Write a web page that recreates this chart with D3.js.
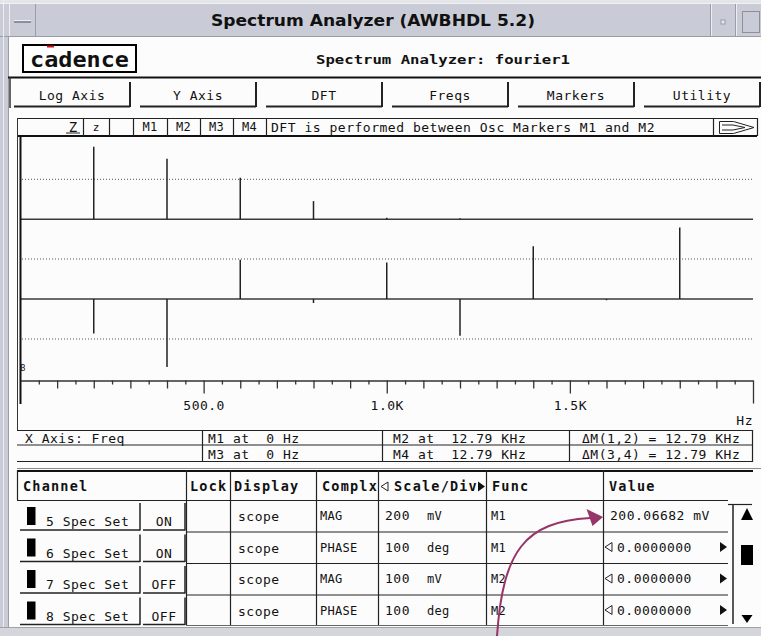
<!DOCTYPE html>
<html><head><meta charset="utf-8">
<script src="https://cdn.jsdelivr.net/npm/d3@7"></script>
<style>
body{margin:0;background:#fcfcfc;overflow:hidden;}
svg text{font-family:"DejaVu Sans Mono",monospace;fill:#111;white-space:pre;}
</style></head>
<body><svg id="c" width="761" height="636"></svg>
<script>
// ---- data ----
const freqs = [200, 400, 600, 800, 1000, 1200, 1400, 1600, 1800];      // Hz
const magnitude = [363, 303, 208, 91, 8, 5, 0, 0, 0];                 // mV (channel 5, MAG)
const phase = [-86, -170, 98, -10, 91, -92, 132, -3, 179];             // deg (channel 6, PHASE)
const xTickValues = d3.range(0, 2001, 50);
const xTickLabels = {500: "500.0", 1000: "1.0K", 1500: "1.5K"};
const menuButtons = ["Log Axis", "Y Axis", "DFT", "Freqs", "Markers", "Utility"];
const markerCells = ["M1", "M2", "M3", "M4"];
const markerNote = "DFT is performed between Osc Markers M1 and M2";
const infoRow1 = ["X Axis: Freq", "M1 at  0 Hz", "M2 at  12.79 KHz", "\u0394M(1,2) = 12.79 KHz"];
const infoRow2 = ["", "M3 at  0 Hz", "M4 at  12.79 KHz", "\u0394M(3,4) = 12.79 KHz"];
const headers = ["Channel", "Lock", "Display", "Complx", "Scale/Div", "Func", "Value"];
const channels = ["5 Spec Set", "6 Spec Set", "7 Spec Set", "8 Spec Set"];
const states = ["ON", "ON", "OFF", "OFF"];
const displays = ["scope", "scope", "scope", "scope"];
const complx = ["MAG", "PHASE", "MAG", "PHASE"];
const scaleVals = ["200", "100", "100", "100"];
const scaleUnits = ["mV", "deg", "mV", "deg"];
const funcs = ["M1", "M1", "M2", "M2"];
const values = ["200.06682 mV", "0.0000000", "0.0000000", "0.0000000"];

const svg = d3.select("#c");
const dark = "#2a2a2a";

function T(x, y, s, o = {}) {
  const t = svg.append("text").attr("x", x).attr("y", y).text(s)
    .attr("xml:space", "preserve")
    .attr("font-size", o.size || 13)
    .attr("letter-spacing", o.ls == null ? 0.5 : o.ls);
  if (o.weight) t.attr("font-weight", o.weight);
  if (o.anchor) t.attr("text-anchor", o.anchor);
  if (o.family) t.style("font-family", o.family);
  if (o.len) t.attr("textLength", o.len).attr("lengthAdjust", "spacingAndGlyphs");
  if (o.fill) t.style("fill", o.fill);
  return t;
}
function L(x1, y1, x2, y2, w = 1, c = dark, dash) {
  const l = svg.append("line").attr("x1", x1).attr("y1", y1).attr("x2", x2).attr("y2", y2)
    .attr("stroke", c).attr("stroke-width", w);
  if (dash) l.attr("stroke-dasharray", dash);
  return l;
}
function R(x, y, w, h, fill, stroke, sw = 1) {
  return svg.append("rect").attr("x", x).attr("y", y).attr("width", w).attr("height", h)
    .attr("fill", fill || "none").attr("stroke", stroke || "none").attr("stroke-width", sw);
}
function leftTri(x, y) { // small outlined left-pointing triangle, tip at (x,y)
  svg.append("path").attr("d", `M${x},${y}L${x + 7},${y - 4.5}V${y + 4.5}Z`)
    .attr("fill", "none").attr("stroke", "#222").attr("stroke-width", 1);
}
function rightTri(x, y) { // filled right-pointing triangle, tip at (x,y)
  svg.append("path").attr("d", `M${x},${y}L${x - 7},${y - 5}V${y + 5}Z`).attr("fill", "#111");
}

// ---- window frame ----
R(0, 0, 761, 636, "#fcfcfc");
R(0, 0, 761, 3, "#e4e5e8");
R(0, 3, 761, 34, "#c9ccd6");
L(0, 3.5, 761, 3.5, 1, "#f2f2f4");
L(0, 36.5, 761, 36.5, 1, "#9a9ca6");
R(0, 37, 8, 599, "#c9ccd6");
L(3.5, 0, 3.5, 636, 1, "#eeeeee");
L(8.5, 37, 8.5, 636, 1, "#9a9ca6");
// title bar buttons
L(35.5, 4, 35.5, 36, 1, "#9a9ca6");
L(9.5, 4, 9.5, 36, 1, "#eeeeee");
R(14, 21, 17, 2, "#8d909a");
L(14, 20.5, 31, 20.5, 1, "#f0f0f2");
L(710.5, 4, 710.5, 36, 1, "#9a9ca6");
L(711.5, 4, 711.5, 36, 1, "#eeeeee");
R(721, 20, 4, 4, "#e8e9ee", "#9a9ca6");
L(735.5, 4, 735.5, 36, 1, "#9a9ca6");
L(736.5, 4, 736.5, 36, 1, "#eeeeee");
R(742.5, 11.5, 17, 21, "#c9ccd6", "#8d909a");
T(373, 26, "Spectrum Analyzer (AWBHDL 5.2)", {size: 16, weight: "bold", anchor: "middle", ls: 0, family: "'DejaVu Sans',sans-serif", len: 324});

// ---- logo + heading ----
R(23, 45, 113, 27, "#fff", "#000", 2);
T(30, 67, "cadence", {size: 22, weight: "bold", ls: 0, len: 99});
R(47, 45.5, 7, 2, "#d01010");
T(316, 64, "Spectrum Analyzer: fourier1", {size: 13, weight: "bold", ls: 0, len: 254});

// ---- menu buttons ----
L(8, 77.5, 761, 77.5, 2, "#111");
L(10, 77, 10, 108, 1.5, "#333");
menuButtons.forEach((b, i) => {
  const x0 = 14 + i * 126, x1 = x0 + 116;
  L(x0, 106.5, x1, 106.5, 2, "#222");
  L(x1, 82, x1, 107, 2, "#222");
  T((x0 + x1) / 2, 100, b, {anchor: "middle"});
});

// ---- marker row ----
L(17, 118.5, 757, 118.5, 1.2, "#222");
L(17, 136, 757, 136, 2, "#111");
L(17.5, 118, 17.5, 430, 1, "#333");
[83, 109, 133, 167, 200, 233, 266, 713, 757].forEach(x => L(x + 0.5, 118, x + 0.5, 136, 1.2, "#222"));
T(73, 132, "Z", {anchor: "middle", size: 14, ls: 0});
L(66, 133, 80, 133, 1, "#222");
T(96, 131, "z", {anchor: "middle", size: 11, ls: 0});
markerCells.forEach((m, i) => {
  const x0 = [133, 167, 200, 233][i], x1 = [167, 200, 233, 266][i];
  T((x0 + x1) / 2, 131, m, {anchor: "middle", size: 12, ls: 0.3});
});
T(271, 132, markerNote, {len: 384});
svg.append("path").attr("d", "M719.5,121.5H733.5L754,127.5L733.5,133.5H719.5Z M722,125H733L745,127.5L733,130H722")
  .attr("fill", "none").attr("stroke", "#222").attr("stroke-width", 1);

// ---- spectrum plot ----
const x = d3.scaleLinear().domain([0, 2000]).range([20.5, 753]);
const yMag = d3.scaleLinear().domain([0, 400]).range([219.3, 139.3]);
const yPh = d3.scaleLinear().domain([-200, 200]).range([379, 219]);

// dotted graticule
[yMag(200), yPh(100), yPh(-100)].forEach(y => L(22, y, 753, y, 1, "#555", "1,2"));
// baselines
L(20, yMag(0), 753, yMag(0), 1.5, "#3a3a3a");
L(20, yPh(0), 753, yPh(0), 1.5, "#3a3a3a");
// left border
L(20.5, 137, 20.5, 404, 2, "#111");

const pts = freqs.map((f, i) => ({f, m: magnitude[i], p: phase[i]}));
svg.append("g").selectAll("line").data(pts.filter(d => d.m > 0)).join("line")
  .attr("x1", d => x(d.f)).attr("x2", d => x(d.f))
  .attr("y1", yMag(0)).attr("y2", d => yMag(d.m))
  .attr("stroke", "#222").attr("stroke-width", 1.5);
svg.append("g").selectAll("line").data(pts).join("line")
  .attr("x1", d => x(d.f)).attr("x2", d => x(d.f))
  .attr("y1", yPh(0)).attr("y2", d => yPh(d.p))
  .attr("stroke", "#222").attr("stroke-width", 1.5);
T(20.5, 371, "B", {size: 8, ls: 0});

// x axis
const axis = d3.axisBottom(x).tickValues(xTickValues).tickSizeOuter(0)
  .tickFormat(d => xTickLabels[d] || "");
const gA = svg.append("g").attr("transform", "translate(0,380.5)").call(axis);
gA.attr("font-family", null).attr("font-size", null);
gA.select(".domain").attr("stroke", "#333").attr("stroke-width", 1.5);
gA.selectAll(".tick line").attr("stroke", "#333").attr("stroke-width", 1.3)
  .attr("y2", d => d === 0 ? 0 : d === 2000 ? 23 : d % 500 === 0 ? 13 : d % 100 === 0 ? 8 : 4);
gA.selectAll(".tick text").attr("y", 29.5).attr("dy", null).attr("font-size", 13)
  .attr("letter-spacing", 0.5).style("fill", "#111");
T(753, 425, "Hz", {anchor: "end"});

// ---- marker info table ----
L(17, 430.5, 752, 430.5, 1, "#222");
L(17, 445, 752, 445, 1.2, "#222");
L(17, 461.5, 752, 461.5, 1.2, "#222");
[202, 382, 569, 752].forEach(xx => L(xx + 0.5, 430, xx + 0.5, 462, 1.2, "#222"));
const infoX = [25, 208, 393, 582];
infoRow1.forEach((s, i) => T(infoX[i], 442.5, s));
infoRow2.forEach((s, i) => { if (s) T(infoX[i], 458.5, s); });
L(17, 468.5, 761, 468.5, 1, "#8a8a8a");

// ---- channel table ----
L(17, 471, 753, 471, 2, "#111");
L(17, 500.5, 728, 500.5, 1.2, "#222");
L(17.5, 470, 17.5, 500, 1.2, "#222");
const colX = [186, 230, 316, 378, 486, 603];
colX.forEach(xx => L(xx + 0.5, 470, xx + 0.5, 625, 1.2, "#222"));
const hX = [23, 190, 234, 322, 394, 492, 609];
headers.forEach((h, i) => T(hX[i], 491, h, {size: 13.5, weight: "bold", ls: 1.2}));
leftTri(381, 486.5);
rightTri(485, 486.5);
const rowTop = [500, 531.5, 563, 594.5];
channels.forEach((c, i) => {
  const y0 = rowTop[i];
  if (i > 0) L(186, y0 + 0.5, 728, y0 + 0.5, 1.2, "#222");
  // channel button
  L(20, y0 + 30, 140, y0 + 30, 1.5, "#222");
  L(140, y0 + 3, 140, y0 + 30.5, 1.5, "#222");
  R(27, y0 + 7, 8.5, 18, "#000");
  T(46, y0 + 26, c);
  // on/off button
  L(143, y0 + 30, 185, y0 + 30, 1.5, "#222");
  L(185, y0 + 3, 185, y0 + 30.5, 1.5, "#222");
  T(164, y0 + 26, states[i], {anchor: "middle"});
  T(238, y0 + 21, displays[i]);
  T(320, y0 + 20, complx[i], {size: 12, ls: 0.3});
  T(385, y0 + 20, scaleVals[i]);
  T(427, y0 + 20, scaleUnits[i], {size: 12, ls: 0.3});
  T(491, y0 + 20, funcs[i], {size: 12, ls: 0.3});
  if (i === 0) {
    T(610, y0 + 20, values[i]);
  } else {
    leftTri(605, y0 + 15.5);
    T(617, y0 + 20, values[i]);
    rightTri(727, y0 + 15.5);
  }
});
L(186, 625.5, 728, 625.5, 1, "#666");
// scrollbar
L(728, 504.5, 752, 504.5, 1.2, "#222");
L(733, 505, 733, 624, 1.5, "#222");
svg.append("path").attr("d", "M747,508L753,520H741Z").attr("fill", "#000");
R(741, 545, 12, 20, "#000");
svg.append("path").attr("d", "M741.5,615H752.5L747,623Z").attr("fill", "#000");
R(0, 628, 761, 8, "#d4d6dc");
L(0, 627.5, 761, 627.5, 1, "#a0a2a8");

// ---- annotation arrow ----
svg.append("path").attr("d", "M497,636 C503,550 525,522 590,518")
  .attr("fill", "none").attr("stroke", "#983468").attr("stroke-width", 2);
svg.append("path").attr("d", "M603,517 L586.5,509 L592.5,526 Z").attr("fill", "#983468");
</script></body></html>
